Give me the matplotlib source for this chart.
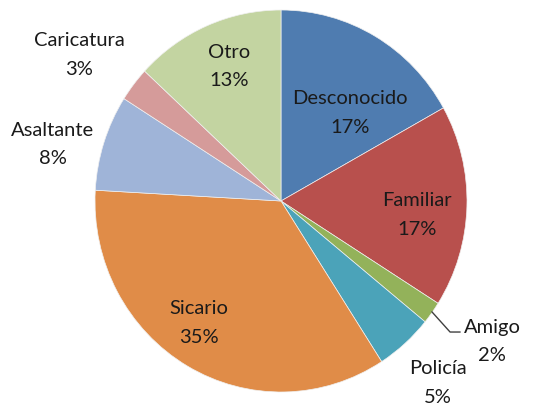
import matplotlib
matplotlib.use("Agg")
import matplotlib.pyplot as plt
import numpy as np

categories = ["Desconocido", "Familiar", "Amigo", "Policía", "Sicario",
              "Asaltante", "Caricatura", "Otro"]
values = [16.9, 17.1, 1.9, 5.0, 35.0, 8.1, 2.9, 13.1]
colors = ["#4F7CB0", "#B8504D", "#93B25A", "#4BA3B9", "#E08C48",
          "#9FB4D8", "#D59B9A", "#C3D4A1"]

# label positions (pie data coords, radius = 1)
label_pos = [(0.371, 0.466), (0.731, -0.068), (1.134, -0.730), (0.844, -0.948),
             (-0.441, -0.634), (-1.226, 0.300), (-1.086, 0.770), (-0.280, 0.710)]

W, H = 537, 410
fig = plt.figure(figsize=(W / 100, H / 100), dpi=100)
cx, cy, rx, ry = 281, 202, 186, 191
ax = fig.add_axes([(cx - rx) / W, (H - cy - ry) / H, 2 * rx / W, 2 * ry / H])
ax.pie(values, colors=colors, startangle=90, counterclock=False, radius=1,
       wedgeprops=dict(linewidth=0.5, edgecolor="#f0f0f0"))
ax.set_aspect("auto")
ax.set_xlim(-1, 1)
ax.set_ylim(-1, 1)
ax.axis("off")

total = sum(values)
for name, v, (x, y) in zip(categories, values, label_pos):
    ax.text(x, y, f"{name}\n{round(v / total * 100):.0f}%", ha="center", va="center",
            fontsize=14.5, family=["Lato", "DejaVu Sans"], color="#1a1a1a",
            linespacing=1.8, clip_on=False)

# leader line for Amigo
ax.plot([0.812, 0.909, 0.962], [-0.581, -0.686, -0.686], color="#404040",
        linewidth=1.0, clip_on=False)

fig.savefig("out.png", dpi=100)
